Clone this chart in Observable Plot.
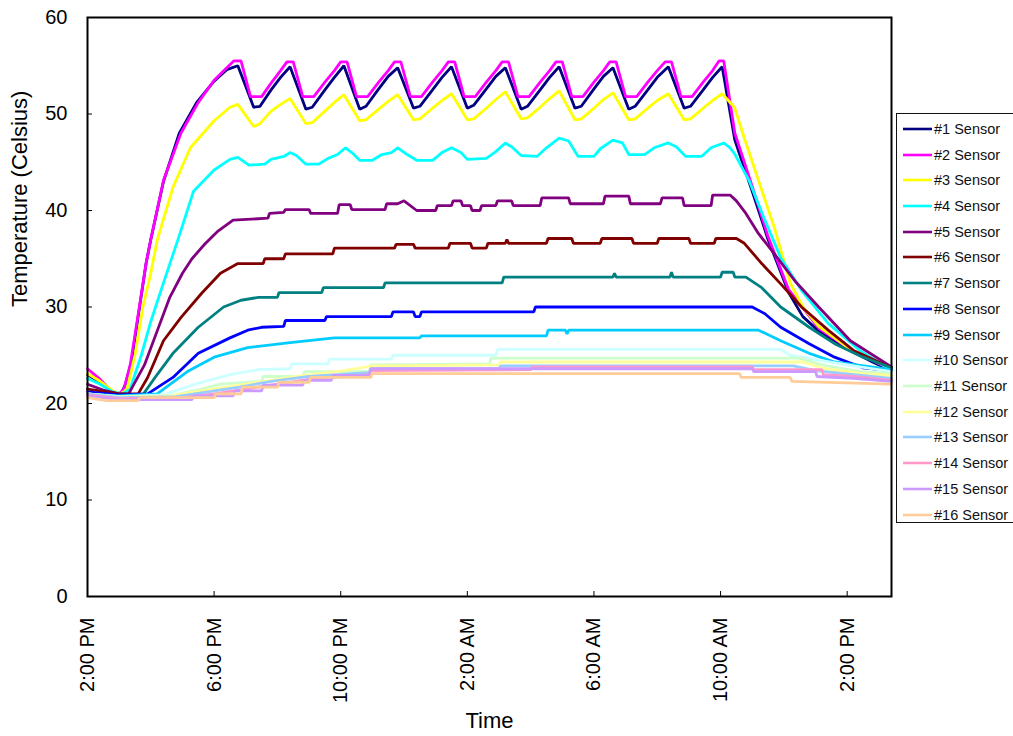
<!DOCTYPE html>
<html>
<head>
<meta charset="utf-8">
<script src="https://cdn.jsdelivr.net/npm/d3@7"></script>
<script src="https://cdn.jsdelivr.net/npm/@observablehq/plot@0.6"></script>
<style>
  html, body { margin: 0; padding: 0; background: #fff; }
  body { width: 1013px; height: 736px; overflow: hidden; position: relative; font-family: Arial, "Liberation Sans", sans-serif; }
  #chart { position: absolute; left: 0; top: 0; }
  #legend { position: absolute; left: 896px; top: 113px; width: 140px; height: 410px; box-sizing: border-box;
            border: 1px solid #111; background: #fff; padding-top: 2px; }
  .row { height: 25.73px; display: flex; align-items: center; font-size: 14.5px; color: #111; white-space: nowrap; }
  .row svg { margin-left: 6px; margin-right: 2px; }
</style>
</head>
<body>
<div id="chart"></div>
<div id="legend"></div>
<script>
// ---- axes ----
const xTicks = [0, 4, 8, 12, 16, 20, 24];               // hours after 2:00 PM
const xTickLabels = ["2:00 PM", "6:00 PM", "10:00 PM", "2:00 AM", "6:00 AM", "10:00 AM", "2:00 PM"];
const yTicks = [0, 10, 20, 30, 40, 50, 60];
const xDomain = [0, 25.4];
const yDomain = [0, 60];

// ---- series ----
const sensorNames = ["#1 Sensor","#2 Sensor","#3 Sensor","#4 Sensor","#5 Sensor","#6 Sensor","#7 Sensor","#8 Sensor",
  "#9 Sensor","#10 Sensor","#11 Sensor","#12 Sensor","#13 Sensor","#14 Sensor","#15 Sensor","#16 Sensor"];
const sensorColors = ["#000080","#ff00ff","#ffff00","#00ffff","#800080","#800000","#008080","#0000ff",
  "#00ccff","#ccffff","#ccffcc","#ffff99","#99ccff","#ff99cc","#cc99ff","#ffcc99"];

// each: [hours after 2:00 PM, temperature °C]
const s1 = [[0,23.0],[0.4,22.2],[0.8,21.2],[1.05,20.9],[1.2,22],[1.4,24.5],[1.6,29],[1.85,34.5],[2.0,37],[2.4,43],[2.9,48],[3.45,51.2],[4.0,53.4],[4.4,54.6],[4.75,55.0],
  [5.25,50.7],[5.45,50.8],[5.8,52.5],[6.1,53.8],[6.4,54.9],
  [6.9,50.5],[7.1,50.7],[7.5,52.5],[7.8,53.8],[8.1,55.0],
  [8.6,50.5],[8.8,50.8],[9.2,52.6],[9.5,53.9],[9.8,54.8],
  [10.3,50.6],[10.5,50.8],[10.9,52.5],[11.2,53.8],[11.5,54.9],
  [12.0,50.6],[12.2,50.9],[12.6,52.6],[12.9,53.9],[13.2,54.8],
  [13.7,50.5],[13.9,50.8],[14.3,52.5],[14.6,53.8],[14.9,54.9],
  [15.4,50.6],[15.6,50.8],[16.0,52.6],[16.3,53.9],[16.6,54.8],
  [17.1,50.5],[17.3,50.8],[17.7,52.5],[18.0,53.8],[18.35,54.9],
  [18.85,50.6],[19.05,50.8],[19.45,52.5],[19.75,53.8],[20.05,54.9],
  [20.45,47.3],[21.0,42],[21.5,37],[22.15,31.5],[22.6,29],[23.1,27.5],[24.1,25.5],[24.8,24.3],[25.4,23.4]];
const s2 = [[0,23.6],[0.4,22.5],[0.75,21.3],[1.0,21.0],[1.15,21.5],[1.35,24],[1.6,29.2],[1.85,34.5],[2.0,37],[2.4,43.1],[2.95,48],[3.5,51.2],[4.0,53.5],[4.4,54.8],[4.62,55.5],[4.85,55.5],
  [5.15,51.8],[5.5,51.8],[5.8,53.2],[6.1,54.5],[6.3,55.4],[6.5,55.4],
  [6.8,51.8],[7.15,51.8],[7.5,53.3],[7.8,54.5],[8.0,55.4],[8.2,55.4],
  [8.5,51.8],[8.85,51.8],[9.2,53.3],[9.5,54.5],[9.7,55.4],[9.9,55.4],
  [10.2,51.8],[10.55,51.8],[10.9,53.3],[11.2,54.5],[11.4,55.4],[11.6,55.4],
  [11.9,51.8],[12.25,51.8],[12.6,53.3],[12.9,54.5],[13.1,55.4],[13.3,55.4],
  [13.6,51.8],[13.95,51.8],[14.3,53.3],[14.6,54.5],[14.8,55.4],[15.0,55.4],
  [15.3,51.8],[15.65,51.8],[16.0,53.3],[16.3,54.5],[16.5,55.4],[16.7,55.4],
  [17.0,51.8],[17.35,51.8],[17.7,53.3],[18.0,54.5],[18.25,55.4],[18.45,55.4],
  [18.75,51.8],[19.1,51.8],[19.45,53.3],[19.75,54.5],[19.95,55.5],[20.1,55.5],
  [20.45,48],[21.0,42.5],[21.5,37.3],[22.15,31.8],[23.1,27.8],[24.1,25.6],[25.4,23.5]];
const s3 = [[0,23.1],[0.4,22.3],[0.8,21.3],[1.05,21.0],[1.25,21.5],[1.5,25],[1.75,30],[2.0,33.5],[2.2,36.9],[2.7,42.4],[3.25,46.5],[4.0,49.3],[4.5,50.7],[4.75,51.0],
  [5.25,48.7],[5.45,49.0],[5.8,50.3],[6.1,51.0],[6.4,51.6],
  [6.9,49.0],[7.1,49.1],[7.5,50.3],[7.8,51.2],[8.1,52.0],
  [8.6,49.3],[8.8,49.4],[9.2,50.5],[9.5,51.3],[9.8,52.0],
  [10.3,49.4],[10.5,49.5],[10.9,50.6],[11.2,51.4],[11.5,52.1],
  [12.0,49.4],[12.2,49.5],[12.6,50.6],[12.9,51.5],[13.2,52.3],
  [13.7,49.5],[13.9,49.6],[14.3,50.7],[14.6,51.6],[14.9,52.4],
  [15.4,49.4],[15.6,49.5],[16.0,50.6],[16.3,51.5],[16.6,52.2],
  [17.1,49.4],[17.3,49.5],[17.7,50.6],[18.0,51.4],[18.35,52.1],
  [18.85,49.4],[19.05,49.5],[19.45,50.6],[19.75,51.4],[20.05,52.1],
  [20.44,50.7],[20.77,47.3],[21.2,43.1],[21.7,38.2],[22.2,32.5],[22.6,30],[23.1,28],[24.1,25.6],[25.4,23.6]];
const s4 = [[0,22.6],[0.4,22],[0.8,21.2],[1.1,21.0],[1.35,21.5],[1.7,25],[2.0,28.5],[2.4,32.5],[2.85,36.9],[3.35,42],[4.0,44.2],[4.5,45.3],[4.75,45.5],[5.1,44.7],[5.6,44.8],[5.8,45.3],[6.2,45.6],[6.4,46.0],[6.6,45.7],
  [6.9,44.8],[7.3,44.8],[7.6,45.4],[7.9,45.8],[8.15,46.5],[8.35,46.0],[8.6,45.2],[9.0,45.2],[9.3,45.8],[9.6,46.0],[9.8,46.5],[10.1,45.8],[10.4,45.2],[10.9,45.2],[11.2,46.0],[11.5,46.5],[11.8,46.0],
  [12.0,45.3],[12.6,45.4],[12.9,46.1],[13.2,47.0],[13.4,46.6],[13.7,45.7],[14.2,45.6],[14.5,46.5],[14.9,47.5],[15.2,47.2],[15.5,45.6],[16.0,45.6],[16.2,46.4],[16.6,47.3],[16.9,47.0],
  [17.1,45.8],[17.6,45.8],[17.9,46.5],[18.35,47.0],[18.6,46.6],[18.9,45.6],[19.4,45.6],[19.7,46.5],[20.1,47.0],[20.3,46.5],
  [20.44,45.9],[20.9,43.1],[21.4,39],[21.9,35.1],[22.56,31.7],[23.4,28.3],[24.4,25.5],[25.4,23.4]];
const s5 = [[0,22.0],[0.5,21.4],[1.0,21.0],[1.3,21.0],[1.8,24],[2.2,27.5],[2.6,31],[3.0,33.5],[3.3,35],[3.7,36.5],[4.1,37.8],[4.6,39],[5.7,39.2],[5.75,39.7],[6.2,39.8],[6.25,40.1],[7.0,40.1],[7.05,39.7],
  [7.9,39.7],[7.95,40.6],[8.3,40.6],[8.35,40.1],[9.4,40.1],[9.45,40.7],[9.8,40.7],[10.0,41],[10.4,40.0],[11.0,40.0],[11.05,40.5],[11.5,40.5],[11.55,41.0],[11.8,41.0],[11.85,40.5],
  [12.1,40.5],[12.15,40.0],[12.4,40.0],[12.45,40.5],[12.9,40.5],[12.95,41.0],[13.4,41.0],[13.45,40.5],[14.3,40.5],[14.35,41.3],[15.2,41.3],[15.25,40.7],[16.3,40.7],[16.35,41.5],[17.1,41.5],[17.15,40.7],
  [18.1,40.7],[18.15,41.3],[18.8,41.3],[18.85,40.5],[19.7,40.5],[19.75,41.6],[20.3,41.6],[20.5,41],[20.8,39.7],[21.2,37.6],[21.7,35.5],[22.35,32.7],[23.1,30],[24.1,26.5],[25.4,23.8]];
const s6 = [[0,21.5],[0.6,21.2],[1.0,21.0],[1.6,21.0],[1.9,22.7],[2.4,26.5],[2.95,28.9],[3.6,31.4],[4.2,33.5],[4.75,34.5],[5.55,34.5],[5.6,35.0],[6.2,35.0],[6.25,35.5],[7.75,35.5],[7.8,36.1],
  [9.7,36.1],[9.75,36.5],[10.3,36.5],[10.35,36.1],[11.4,36.1],[11.45,36.6],[12.1,36.6],[12.15,36.1],[12.6,36.1],[12.65,36.6],[13.2,36.6],[13.25,37.0],[13.3,36.6],
  [14.5,36.6],[14.55,37.1],[15.3,37.1],[15.35,36.6],[16.2,36.6],[16.25,37.1],[17.2,37.1],[17.25,36.6],[18.0,36.6],[18.05,37.1],[19.0,37.1],[19.05,36.6],[19.8,36.6],[19.85,37.1],[20.5,37.1],
  [20.75,36.6],[21.3,34.5],[21.9,32.4],[22.56,30],[23.4,27.6],[24.2,25.5],[25.4,23.7]];
const s7 = [[0,21.0],[1.0,20.8],[1.77,21.0],[2.2,23],[2.7,25.2],[3.5,27.9],[4.3,30],[4.85,30.7],[5.4,31.0],[6.0,31.0],[6.05,31.5],[7.4,31.5],[7.45,32.0],[9.35,32.0],[9.4,32.5],[13.1,32.5],[13.15,33.1],
  [16.6,33.1],[16.65,33.5],[16.7,33.1],[18.4,33.1],[18.45,33.6],[18.5,33.1],[20.0,33.1],[20.05,33.6],[20.4,33.6],[20.45,33.1],[20.8,33.1],
  [21.3,32],[21.9,30],[22.8,27.9],[23.6,26.2],[24.5,24.8],[25.4,23.7]];
const s8 = [[0,21.2],[1.0,20.9],[1.9,21.0],[2.7,22.7],[3.5,25.2],[4.5,26.8],[5.06,27.6],[5.5,27.9],[6.2,28.0],[6.25,28.6],[7.5,28.6],[7.55,29.0],[9.6,29.0],[9.65,29.5],[10.3,29.5],[10.35,29.0],[10.5,29.0],[10.55,29.5],
  [14.1,29.5],[14.15,30.0],[21.0,30.0],[21.4,29.3],[21.9,27.9],[22.8,26.2],[23.6,24.8],[24.5,23.7],[25.4,23.4]];
const s9 = [[0,21.0],[1.0,20.8],[2.2,21.0],[3.2,23.4],[4.0,24.8],[5.06,25.8],[6.4,26.3],[7.8,26.8],[10.5,26.8],[10.55,27.0],[14.5,27.0],[14.55,27.6],[15.1,27.6],[15.15,27.2],[15.2,27.6],
  [21.2,27.6],[21.9,26.5],[22.8,25.2],[23.6,24.3],[25.4,23.5]];
const s10 = [[0,21.0],[1.0,20.7],[2.4,20.9],[3.4,22.0],[4.5,23.0],[5.4,23.5],[6.4,23.6],[6.45,24.1],[7.6,24.1],[7.65,24.6],[9.6,24.6],[9.65,25.0],[12.9,25.0],[12.95,25.6],
  [21.9,25.6],[22.2,25.0],[23.3,24.4],[24.4,23.8],[25.4,23.3]];
const s11 = [[0,21.0],[1.0,20.7],[2.6,20.8],[3.6,21.5],[4.2,22.0],[5.5,22.3],[5.55,22.8],[6.8,22.8],[6.85,23.3],[8.9,23.3],[8.95,24.0],[12.7,24.1],[12.75,24.7],
  [22.5,24.7],[23.2,24.0],[24.4,23.3],[25.4,23.1]];
const s12 = [[0,21.0],[1.0,20.6],[2.6,20.8],[3.6,21.3],[4.6,21.8],[5.6,22.3],[6.6,22.8],[8.1,23.4],[9.0,23.9],[13.0,24.0],[13.05,24.3],
  [22.6,24.3],[23.3,23.6],[24.5,23.1],[25.4,22.9]];
const s13 = [[0,21.0],[1.0,20.6],[2.8,20.7],[3.8,21.2],[4.8,21.7],[5.8,22.3],[7.0,22.8],[8.9,23.2],[8.95,23.6],[13.0,23.6],[13.05,23.9],
  [22.3,23.9],[23.0,23.4],[24.2,23.0],[25.4,22.6]];
const s14 = [[0,20.9],[1.0,20.5],[3.0,20.6],[4.0,21.0],[5.0,21.5],[6.0,22.0],[7.2,22.6],[8.9,23.0],[8.95,23.4],[14.0,23.5],[14.05,23.8],
  [21.0,23.8],[21.05,23.5],[23.2,23.5],[23.25,23.0],[24.2,22.8],[25.4,22.4]];
const s15 = [[0,20.8],[1.0,20.4],[3.3,20.4],[3.35,20.8],[4.6,20.8],[4.65,21.3],[5.5,21.3],[5.55,21.9],[6.8,21.9],[6.85,22.4],[7.7,22.4],[7.75,22.9],[8.9,22.9],[8.95,23.6],
  [21.0,23.6],[21.05,23.3],[23.0,23.3],[23.05,22.8],[24.2,22.6],[25.4,22.3]];
const s16 = [[0,20.6],[0.6,20.3],[1.6,20.3],[1.65,20.6],[4.0,20.6],[4.05,21.0],[4.85,21.0],[4.9,21.7],[6.0,21.7],[6.05,22.2],[7.0,22.2],[7.05,22.7],[8.95,22.7],[9.0,23.1],
  [20.6,23.1],[20.65,22.7],[22.2,22.7],[22.25,22.3],[25.4,22.0]];

const series = [s1,s2,s3,s4,s5,s6,s7,s8,s9,s10,s11,s12,s13,s14,s15,s16];

// tidy table for Plot
const rows = series.flatMap((s, i) => s.map(([t, v]) => ({sensor: sensorNames[i], t, v})));

const chart = Plot.plot({
  width: 1013,
  height: 736,
  marginLeft: 87,
  marginRight: 122,
  marginTop: 17,
  marginBottom: 140,
  style: {fontFamily: "Arial, 'Liberation Sans', sans-serif", fontSize: "20px", background: "#fff", color: "#000"},
  x: {domain: xDomain, label: null},
  y: {domain: yDomain, label: null},
  color: {domain: sensorNames, range: sensorColors},
  marks: [
    Plot.line(rows, {x: "t", y: "v", z: "sensor", stroke: "sensor", strokeWidth: 2.8, strokeLinejoin: "miter"}),
    Plot.frame({stroke: "#000", strokeWidth: 2}),
    Plot.axisY({ticks: yTicks, tickSize: 5, dx: 5, tickPadding: 20, label: null, fontSize: 20}),
    Plot.axisX({ticks: xTicks, tickSize: 5, dy: -5, tickPadding: 21, tickRotate: -90, label: null, fontSize: 20,
      tickFormat: d => xTickLabels[xTicks.indexOf(d)]}),
    Plot.text(["Temperature (Celsius)"], {frameAnchor: "left", rotate: -90, dx: -68, fontSize: 22}),
    Plot.text(["Time"], {frameAnchor: "bottom", dy: 131, fontSize: 22})
  ]
});
document.getElementById("chart").appendChild(chart);

// legend
const legend = d3.select("#legend");
sensorNames.forEach((name, i) => {
  const row = legend.append("div").attr("class", "row");
  const svg = row.append("svg").attr("width", 29).attr("height", 6);
  svg.append("line").attr("x1", 0).attr("x2", 29).attr("y1", 3).attr("y2", 3)
    .attr("stroke", sensorColors[i]).attr("stroke-width", 2.6);
  row.append("span").text(name);
});
</script>
</body>
</html>
